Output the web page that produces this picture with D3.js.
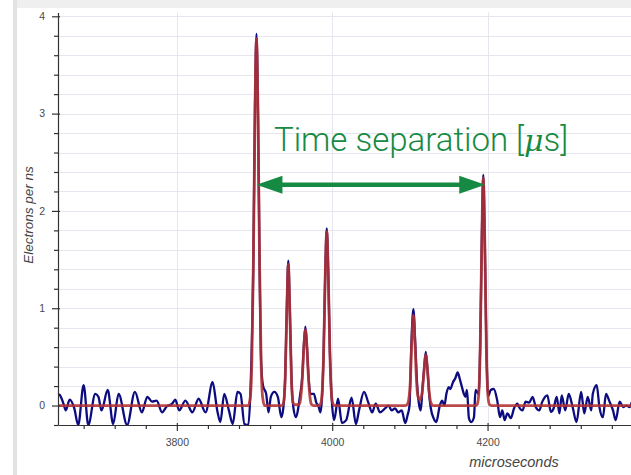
<!DOCTYPE html>
<html>
<head>
<meta charset="utf-8">
<script src="https://cdn.jsdelivr.net/npm/d3@7"></script>
<style>
  body { margin: 0; background: #fff; }
  #chart-container { width: 631px; height: 475px; overflow: hidden; }
</style>
</head>
<body>
<div id="chart-container"></div>
<script>
const signalTimes = [3645, 3649, 3654, 3657, 3662, 3668, 3673, 3680, 3686, 3695, 3699, 3703, 3711, 3718, 3725, 3736, 3746, 3755, 3762, 3768, 3774, 3781, 3787, 3794, 3798, 3803, 3811, 3820, 3828, 3837, 3846, 3852, 3856, 3861, 3867, 3872, 3878, 3882, 3887, 3892, 3895, 3898.5, 3900.5, 3902.5, 3904.5, 3906.5, 3908.5, 3911, 3915, 3918, 3921, 3925.5, 3930, 3934.5, 3937, 3939.5, 3941.5, 3943.5, 3945.5, 3947.5, 3950, 3953.5, 3956, 3958.5, 3961.5, 3963.5, 3965.5, 3967.5, 3969.5, 3972, 3976.5, 3979.5, 3982, 3985, 3987, 3989, 3991, 3993, 3995, 3997, 3999.5, 4002.5, 4007.5, 4012.5, 4018, 4025, 4030.5, 4034.5, 4041, 4046.5, 4051.5, 4056, 4061.5, 4068, 4072.5, 4076.5, 4081, 4085, 4089.5, 4094, 4097, 4099.5, 4102, 4104.5, 4107, 4109.5, 4112, 4114, 4116, 4118, 4120.5, 4123, 4125, 4127, 4130.5, 4134, 4138.5, 4141.5, 4144.5, 4147, 4150, 4152, 4155.5, 4158.5, 4161.5, 4164, 4167, 4169.5, 4171.5, 4173.5, 4176, 4179, 4182.5, 4184.5, 4188.5, 4190.5, 4192.5, 4194.5, 4196.5, 4198.5, 4201, 4204, 4208, 4212.5, 4216, 4219, 4222, 4225.5, 4230, 4234, 4238.5, 4240.5, 4245, 4249, 4253.5, 4258, 4262, 4266.5, 4270.5, 4277, 4281.5, 4285, 4289, 4292.5, 4295.5, 4300, 4304.5, 4309.5, 4314.5, 4320.5, 4324.5, 4329, 4333.5, 4335.5, 4340.5, 4344, 4348.5, 4352.5, 4357, 4361.5, 4365, 4370, 4374.5, 4378.5, 4383, 4386.5, 4392];
const signalValues = [0.12, 0.11, 0.02, -0.05, 0.06, -0.03, -0.2, 0.21, -0.2, 0.12, 0.09, -0.05, 0.16, -0.19, 0.12, -0.2, 0.14, -0.07, 0.09, 0.04, 0.05, -0.07, -0.01, 0.02, 0.06, -0.05, 0.05, -0.07, 0.07, -0.07, 0.24, -0.05, -0.17, 0.12, -0.05, -0.19, 0.14, 0.12, -0.19, -0.2, 0.2, 1.5, 3.0, 3.82, 3.0, 1.45, 0.45, 0.2, 0.12, -0.07, 0.09, 0.14, 0.09, -0.12, -0.03, 0.3, 0.98, 1.49, 0.96, 0.3, -0.02, -0.12, -0.04, 0.1, 0.3, 0.62, 0.81, 0.6, 0.3, 0.12, 0.12, 0.03, 0.0, -0.07, 0.1, 0.56, 1.34, 1.82, 1.34, 0.56, 0.05, -0.15, 0.07, -0.18, -0.15, 0.08, -0.19, -0.05, 0.14, 0.03, -0.07, 0.02, -0.07, -0.03, 0.0, -0.05, -0.03, -0.07, -0.05, -0.18, -0.1, 0.0, 0.65, 0.99, 0.62, 0.2, 0.0, -0.05, 0.15, 0.35, 0.55, 0.33, 0.1, -0.03, -0.13, -0.17, 0.0, 0.05, 0.0, 0.12, 0.19, 0.17, 0.24, 0.28, 0.34, 0.28, 0.19, 0.12, 0.09, 0.16, -0.13, -0.17, -0.12, 0.16, 0.12, 0.6, 1.66, 2.37, 1.66, 0.6, 0.1, 0.16, 0.17, 0.05, -0.12, -0.05, -0.15, -0.08, -0.13, -0.03, 0.02, -0.015, -0.05, 0.04, 0.03, 0.09, -0.015, -0.05, 0.04, 0.105, -0.065, -0.03, 0.09, -0.08, 0.105, -0.05, 0.12, -0.015, -0.17, 0.14, -0.08, 0.09, -0.05, 0.12, 0.21, -0.015, -0.12, 0.12, 0.04, -0.05, -0.15, 0.04, -0.015, 0.0, -0.015, 0.04, 0.0];

// fitted pulses (red)
const fitTimes = [3645, 3892, 3894.5, 3896.5, 3898.5, 3900.5, 3902.5, 3904.5, 3906.5, 3908.5, 3910.5, 3913, 3935.5, 3937.5, 3939.5, 3941.5, 3943.5, 3945.5, 3947.5, 3949.5, 3951.5, 3954.5, 3957.5, 3959.5, 3961.5, 3963.5, 3965.5, 3967.5, 3969.5, 3971.5, 3973.5, 3976, 3983, 3985, 3987, 3989, 3991, 3993, 3995, 3997, 3999, 4001, 4003, 4094, 4096.5, 4098.5, 4100.5, 4102.5, 4104.5, 4106.5, 4108.5, 4110.5, 4113, 4115.5, 4118, 4120.5, 4123, 4125, 4127, 4130, 4184.5, 4186.5, 4188.5, 4190.5, 4192.5, 4194.5, 4196.5, 4198.5, 4200.5, 4202.5, 4205, 4420];
const fitValues = [0, 0, 0.08, 0.44, 1.46, 2.97, 3.77, 2.97, 1.46, 0.44, 0.08, 0, 0, 0.035, 0.28, 0.96, 1.45, 0.96, 0.28, 0.035, 0.01, 0.01, 0.01, 0.08, 0.28, 0.6, 0.78, 0.6, 0.28, 0.08, 0.01, 0, 0, 0.016, 0.125, 0.55, 1.33, 1.79, 1.33, 0.55, 0.125, 0.016, 0, 0, 0.01, 0.06, 0.24, 0.66, 0.93, 0.66, 0.26, 0.09, 0.06, 0.12, 0.33, 0.52, 0.33, 0.13, 0.03, 0, 0, 0.01, 0.1, 0.58, 1.65, 2.34, 1.65, 0.58, 0.1, 0.01, 0, 0];

const xMajorTicks = [3800, 4000, 4200, 4400];
const yMajorTicks = [0, 1, 2, 3, 4];
const arrowTimes = [3902.5, 4197];
const arrowLevel = 2.27;
const annotationText = "Time separation [";

let width = 631;
let height = 475;

var svg = d3
  .select("#chart-container")
  .append("svg")
  .attr("width", width)
  .attr("height", height)
  .style("font-family", "'Liberation Sans', Arial, sans-serif");

// frame shadow of the output cell
svg.append("rect").attr("x", 13).attr("y", 0).attr("width", width).attr("height", 8).attr("fill", "#efefef");
svg.append("rect").attr("x", 13).attr("y", 0).attr("width", 4).attr("height", height).attr("fill", "#e2e2e2");

let plotLeft = 58, plotRight = 660, plotTop = 12.4, plotBottom = 425;

let xScale = d3.scaleLinear().domain([3647, 4422]).range([plotLeft, plotRight]);
let yScale = d3.scaleLinear().domain([-0.2, 4.04]).range([plotBottom, plotTop]);

// grid lines
let yGrid = d3.range(-0.2, 4.01, 0.2).map((d) => +d.toFixed(1));
svg
  .append("g")
  .selectAll("line")
  .data(yGrid)
  .enter()
  .append("line")
  .attr("x1", plotLeft)
  .attr("x2", width)
  .attr("y1", (d) => Math.round(yScale(d)) + 0.5)
  .attr("y2", (d) => Math.round(yScale(d)) + 0.5)
  .attr("stroke", "#e6e6ee")
  .attr("stroke-width", 1);

svg
  .append("g")
  .selectAll("line")
  .data(xMajorTicks)
  .enter()
  .append("line")
  .attr("x1", (d) => Math.round(xScale(d)) + 0.5)
  .attr("x2", (d) => Math.round(xScale(d)) + 0.5)
  .attr("y1", plotTop)
  .attr("y2", plotBottom)
  .attr("stroke", "#e6e6ee")
  .attr("stroke-width", 1);

// clip the data to the plot frame
svg
  .append("clipPath")
  .attr("id", "plot-clip")
  .append("rect")
  .attr("x", plotLeft)
  .attr("y", plotTop)
  .attr("width", plotRight - plotLeft)
  .attr("height", plotBottom - plotTop);

let plot = svg.append("g").attr("clip-path", "url(#plot-clip)");

let signalLine = d3
  .line()
  .x((d, i) => xScale(signalTimes[i]))
  .y((d) => yScale(d))
  .curve(d3.curveMonotoneX);

let fitLine = d3
  .line()
  .x((d, i) => xScale(fitTimes[i]))
  .y((d) => yScale(d))
  .curve(d3.curveMonotoneX);

plot
  .append("path")
  .attr("d", signalLine(signalValues))
  .attr("fill", "none")
  .attr("stroke", "#0c0c80")
  .attr("stroke-width", 2.3)
  .attr("stroke-linejoin", "round");

plot
  .append("path")
  .attr("d", fitLine(fitValues))
  .attr("fill", "none")
  .attr("stroke", "#b23232")
  .attr("stroke-opacity", 0.88)
  .attr("stroke-width", 2.8)
  .attr("stroke-linejoin", "round");

// x axis: major + minor ticks
let xMinor = d3.range(3680, 4440, 40).filter((d) => d % 200 !== 0);
let xAxisG = svg.append("g").attr("transform", "translate(0," + plotBottom + ")");
xAxisG
  .append("g")
  .call(d3.axisBottom(xScale).tickValues(xMinor).tickSize(4).tickFormat(""))
  .call((g) => g.select(".domain").remove());
xAxisG
  .append("g")
  .call(d3.axisBottom(xScale).tickValues(xMajorTicks).tickSize(6).tickPadding(8).tickSizeOuter(0).tickFormat((d) => d))
  .call((g) => g.selectAll(".tick line").attr("y1", -2));
xAxisG.selectAll("line, path").attr("stroke", "#333").attr("stroke-width", 1.2);
xAxisG.selectAll("text").attr("font-size", "10.5px").attr("fill", "#4a4a4a").attr("font-family", "'Liberation Sans', Arial, sans-serif");

// y axis
let yMinor = d3.range(-0.2, 4.01, 0.2).map((d) => +d.toFixed(1)).filter((d) => !Number.isInteger(d));
let yAxisG = svg.append("g").attr("transform", "translate(" + plotLeft + ",0)");
yAxisG
  .append("g")
  .call(d3.axisLeft(yScale).tickValues(yMinor).tickSize(4).tickFormat(""))
  .call((g) => g.select(".domain").remove());
yAxisG
  .append("g")
  .call(d3.axisLeft(yScale).tickValues(yMajorTicks).tickSize(6).tickPadding(7).tickSizeOuter(0).tickFormat((d) => d))
  .call((g) => g.selectAll(".tick line").attr("x1", 2));
yAxisG.selectAll("line, path").attr("stroke", "#333").attr("stroke-width", 1.2);
yAxisG.selectAll("text").attr("font-size", "10.5px").attr("fill", "#4a4a4a").attr("font-family", "'Liberation Sans', Arial, sans-serif");

// axis labels
svg
  .append("text")
  .attr("x", 514)
  .attr("y", 467)
  .attr("text-anchor", "middle")
  .attr("font-style", "italic")
  .attr("font-size", "14.5px")
  .attr("fill", "#444")
  .text("microseconds");

svg
  .append("text")
  .attr("transform", "rotate(-90)")
  .attr("x", -215)
  .attr("y", 33)
  .attr("text-anchor", "middle")
  .attr("font-style", "italic")
  .attr("font-size", "13.5px")
  .attr("fill", "#444")
  .text("Electrons per ns");

// annotation: double-headed arrow and label
let green = "#168a43";
let ay = yScale(arrowLevel);
let ax1 = xScale(arrowTimes[0]);
let ax2 = xScale(arrowTimes[1]);
let headLen = 26, headHalf = 9;

svg
  .append("line")
  .attr("x1", ax1 + headLen - 2)
  .attr("x2", ax2 - headLen + 2)
  .attr("y1", ay)
  .attr("y2", ay)
  .attr("stroke", green)
  .attr("stroke-width", 4.5);

svg
  .append("path")
  .attr("d", `M${ax1},${ay} L${ax1 + headLen},${ay - headHalf} L${ax1 + headLen},${ay + headHalf} Z`)
  .attr("fill", green);
svg
  .append("path")
  .attr("d", `M${ax2},${ay} L${ax2 - headLen},${ay - headHalf} L${ax2 - headLen},${ay + headHalf} Z`)
  .attr("fill", green);

let label = svg
  .append("text")
  .attr("x", xScale(3925))
  .attr("y", yScale(2.62))
  .attr("font-family", "Roboto, 'Liberation Sans', sans-serif")
  .attr("font-weight", 300)
  .attr("font-size", "33px")
  .attr("fill", green)
  .text(annotationText);
label.append("tspan").attr("font-family", "'DejaVu Serif', serif").attr("font-style", "italic").attr("font-size", "30px").text("\u03bc");
label.append("tspan").text("s]");
</script>
</body>
</html>
